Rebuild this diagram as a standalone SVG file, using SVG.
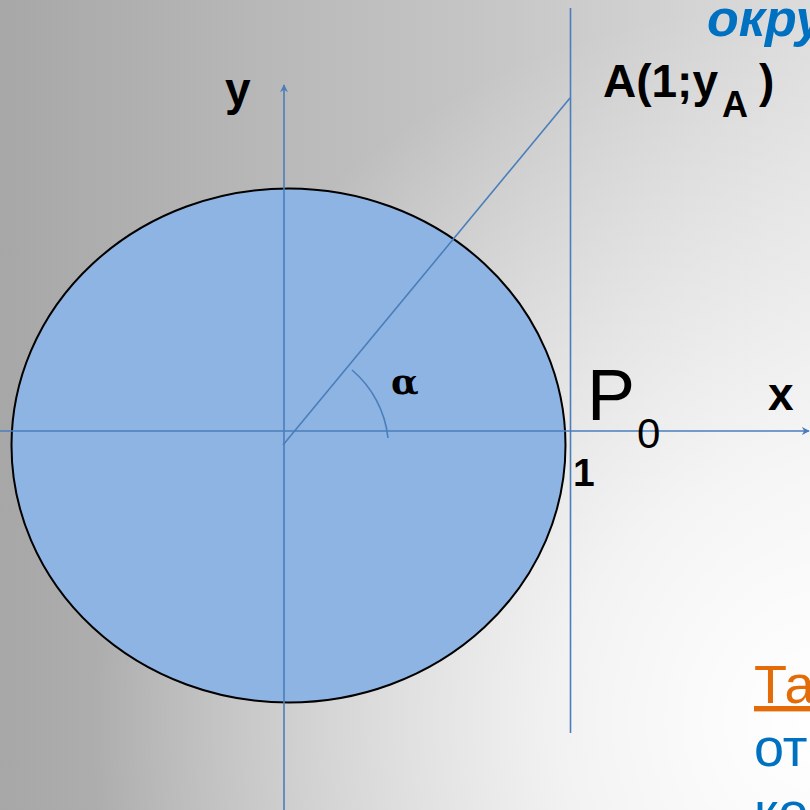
<svg xmlns="http://www.w3.org/2000/svg" width="810" height="810" viewBox="0 0 810 810">
<defs>
<linearGradient id="bg" x1="0" y1="0" x2="810" y2="0" gradientUnits="userSpaceOnUse">
<stop offset="0" stop-color="#a7a7a7"/>
<stop offset="0.57" stop-color="#c4c4c4"/>
<stop offset="1" stop-color="#dcdcdc"/>
</linearGradient>
<radialGradient id="glow" cx="810" cy="720" r="720" gradientUnits="userSpaceOnUse">
<stop offset="0" stop-color="#ffffff" stop-opacity="1"/>
<stop offset="0.35" stop-color="#ffffff" stop-opacity="0.75"/>
<stop offset="1" stop-color="#ffffff" stop-opacity="0"/>
</radialGradient>
<marker id="arr" viewBox="0 0 10 10" refX="9" refY="5" markerWidth="8" markerHeight="8" markerUnits="userSpaceOnUse" orient="auto">
<path d="M0,0 L10,5 L0,10 L3,5 Z" fill="#4a7ebb"/>
</marker>
<style>
.ax{stroke:#4a7ebb;stroke-width:1.6;fill:none}
.b{font-family:"Liberation Sans",Arial,sans-serif;font-weight:bold;fill:#000}
.r{font-family:"Liberation Sans",Arial,sans-serif;fill:#000}
</style>
</defs>
<rect width="810" height="810" fill="url(#bg)"/>
<rect width="810" height="810" fill="url(#glow)"/>
<g id="circle">
<ellipse cx="288.5" cy="445.5" rx="277" ry="257" fill="#8eb4e3" stroke="#000" stroke-width="2"/>
</g>
<g id="connectors">
<line class="ax" x1="0" y1="431" x2="809" y2="431" marker-end="url(#arr)"/>
<line class="ax" x1="284" y1="810" x2="284" y2="85" marker-end="url(#arr)"/>
<line class="ax" x1="570.5" y1="8" x2="570.5" y2="733"/>
<line class="ax" x1="283" y1="445" x2="570" y2="98"/>
<path class="ax" d="M352,370 A103,103 0 0 1 388,438"/>
</g>
<g id="labels">
<text x="707" y="36" font-family="Liberation Sans,Arial,sans-serif" font-weight="bold" font-style="italic" font-size="52" fill="#0070c0">окру</text>
<text class="b" x="603" y="97" font-size="46">A(1;y</text>
<text class="b" x="722" y="117" font-size="36">A</text>
<text class="b" x="759" y="97" font-size="46">)</text>
<text class="b" x="225" y="105" font-size="46">y</text>
<text class="b" x="768" y="410" font-size="46">x</text>
<text class="r" x="587" y="420" font-size="72">P</text>
<text class="r" x="637" y="448" font-size="42">0</text>
<text class="b" x="573" y="486" font-size="39">1</text>
<text x="391" y="394" font-family="'DejaVu Serif',serif" font-weight="bold" font-size="36" fill="#000">α</text>
<text x="754" y="703" font-family="Liberation Sans,Arial,sans-serif" font-size="54" fill="#e36c09" text-decoration="underline">Та</text>
<text x="754" y="766" font-family="Liberation Sans,Arial,sans-serif" font-size="54" fill="#0070c0">от</text>
<text x="754" y="830" font-family="Liberation Sans,Arial,sans-serif" font-size="54" fill="#0070c0">ко</text>
</g>
</svg>
